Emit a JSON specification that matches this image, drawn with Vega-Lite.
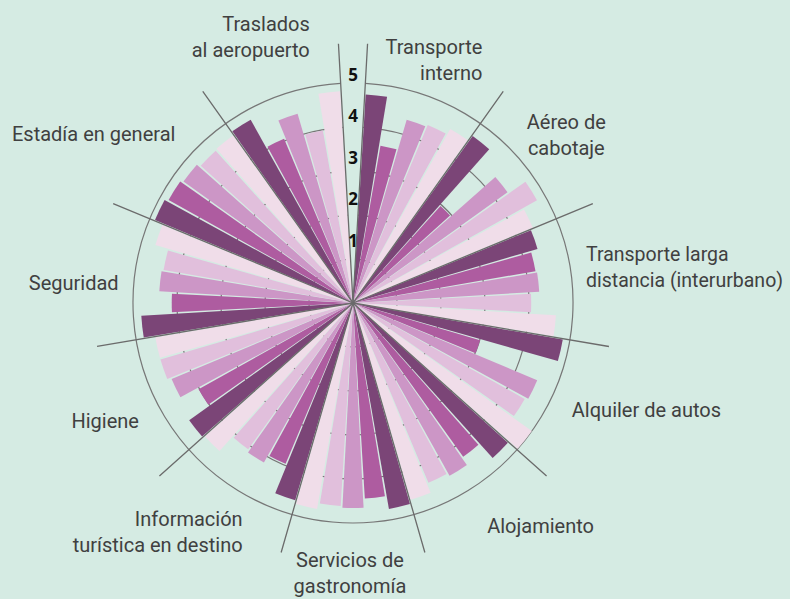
{
  "$schema": "https://vega.github.io/schema/vega-lite/v6.json",
  "width": 706,
  "height": 606,
  "autosize": {"type": "none"},
  "padding": {"left": 0, "top": 0, "right": 84, "bottom": 0},
  "background": "#d5ebe3",
  "config": {
    "view": {"stroke": null},
    "text": {"font": "Roboto, sans-serif", "fontSize": 20, "fill": "#404040", "lineBreak": "\n", "lineHeight": 26, "baseline": "middle"}
  },
  "datasets": {
    "bars": [
      {"ci": 0, "cat": "", "s": 0, "v": 0},
      {"ci": 1, "cat": "Transporte\ninterno", "s": 1, "v": 4.75},
      {"ci": 1, "cat": "Transporte\ninterno", "s": 2, "v": 3.63},
      {"ci": 1, "cat": "Transporte\ninterno", "s": 3, "v": 4.34},
      {"ci": 1, "cat": "Transporte\ninterno", "s": 4, "v": 4.39},
      {"ci": 1, "cat": "Transporte\ninterno", "s": 5, "v": 4.53},
      {"ci": 2, "cat": "Aéreo de\ncabotaje", "s": 1, "v": 4.67},
      {"ci": 2, "cat": "Aéreo de\ncabotaje", "s": 2, "v": 2.97},
      {"ci": 2, "cat": "Aéreo de\ncabotaje", "s": 3, "v": 4.32},
      {"ci": 2, "cat": "Aéreo de\ncabotaje", "s": 4, "v": 4.79},
      {"ci": 2, "cat": "Aéreo de\ncabotaje", "s": 5, "v": 4.43},
      {"ci": 3, "cat": "Transporte larga\ndistancia (interurbano)", "s": 1, "v": 4.37},
      {"ci": 3, "cat": "Transporte larga\ndistancia (interurbano)", "s": 2, "v": 4.21},
      {"ci": 3, "cat": "Transporte larga\ndistancia (interurbano)", "s": 3, "v": 4.24},
      {"ci": 3, "cat": "Transporte larga\ndistancia (interurbano)", "s": 4, "v": 4.05},
      {"ci": 3, "cat": "Transporte larga\ndistancia (interurbano)", "s": 5, "v": 4.62},
      {"ci": 4, "cat": "Alquiler de autos", "s": 1, "v": 4.84},
      {"ci": 4, "cat": "Alquiler de autos", "s": 2, "v": 3.01},
      {"ci": 4, "cat": "Alquiler de autos", "s": 3, "v": 4.54},
      {"ci": 4, "cat": "Alquiler de autos", "s": 4, "v": 4.47},
      {"ci": 4, "cat": "Alquiler de autos", "s": 5, "v": 5.0},
      {"ci": 5, "cat": "Alojamiento", "s": 1, "v": 4.74},
      {"ci": 5, "cat": "Alojamiento", "s": 2, "v": 4.30},
      {"ci": 5, "cat": "Alojamiento", "s": 3, "v": 4.50},
      {"ci": 5, "cat": "Alojamiento", "s": 4, "v": 4.43},
      {"ci": 5, "cat": "Alojamiento", "s": 5, "v": 4.66},
      {"ci": 6, "cat": "Servicios de\ngastronomía", "s": 1, "v": 4.75},
      {"ci": 6, "cat": "Servicios de\ngastronomía", "s": 2, "v": 4.45},
      {"ci": 6, "cat": "Servicios de\ngastronomía", "s": 3, "v": 4.66},
      {"ci": 6, "cat": "Servicios de\ngastronomía", "s": 4, "v": 4.62},
      {"ci": 6, "cat": "Servicios de\ngastronomía", "s": 5, "v": 4.75},
      {"ci": 7, "cat": "Información\nturística en destino", "s": 1, "v": 4.67},
      {"ci": 7, "cat": "Información\nturística en destino", "s": 2, "v": 3.96},
      {"ci": 7, "cat": "Información\nturística en destino", "s": 3, "v": 4.15},
      {"ci": 7, "cat": "Información\nturística en destino", "s": 4, "v": 4.09},
      {"ci": 7, "cat": "Información\nturística en destino", "s": 5, "v": 4.53},
      {"ci": 8, "cat": "Higiene", "s": 1, "v": 4.58},
      {"ci": 8, "cat": "Higiene", "s": 2, "v": 4.02},
      {"ci": 8, "cat": "Higiene", "s": 3, "v": 4.47},
      {"ci": 8, "cat": "Higiene", "s": 4, "v": 4.56},
      {"ci": 8, "cat": "Higiene", "s": 5, "v": 4.56},
      {"ci": 9, "cat": "Seguridad", "s": 1, "v": 4.82},
      {"ci": 9, "cat": "Seguridad", "s": 2, "v": 4.12},
      {"ci": 9, "cat": "Seguridad", "s": 3, "v": 4.41},
      {"ci": 9, "cat": "Seguridad", "s": 4, "v": 4.37},
      {"ci": 9, "cat": "Seguridad", "s": 5, "v": 4.68},
      {"ci": 10, "cat": "Estadía en general", "s": 1, "v": 4.88},
      {"ci": 10, "cat": "Estadía en general", "s": 2, "v": 4.80},
      {"ci": 10, "cat": "Estadía en general", "s": 3, "v": 4.74},
      {"ci": 10, "cat": "Estadía en general", "s": 4, "v": 4.66},
      {"ci": 10, "cat": "Estadía en general", "s": 5, "v": 4.68},
      {"ci": 11, "cat": "Traslados\nal aeropuerto", "s": 1, "v": 4.77},
      {"ci": 11, "cat": "Traslados\nal aeropuerto", "s": 2, "v": 4.05},
      {"ci": 11, "cat": "Traslados\nal aeropuerto", "s": 3, "v": 4.48},
      {"ci": 11, "cat": "Traslados\nal aeropuerto", "s": 4, "v": 3.98},
      {"ci": 11, "cat": "Traslados\nal aeropuerto", "s": 5, "v": 4.82}
    ],
    "ticks": [{"t": 1}, {"t": 2}, {"t": 3}, {"t": 4}, {"t": 5}]
  },
  "resolve": {"scale": {"radius": "independent"}},
  "layer": [
    {
      "layer": [
        {
          "data": {"name": "ticks"},
          "mark": {"type": "arc", "fill": "transparent", "stroke": "#777777", "strokeWidth": 1.2},
          "encoding": {
            "theta": {"datum": 1, "type": "quantitative", "scale": {"domain": [0, 56], "range": [-0.0561, 6.2271]}},
            "theta2": {"datum": 56},
            "radius": {"field": "t", "type": "quantitative", "scale": {"type": "linear", "domain": [0, 5], "range": [0, 220], "zero": true}},
            "radius2": {"field": "t"}
          }
        },
        {
          "data": {"name": "bars"},
          "transform": [
            {"aggregate": [{"op": "count", "as": "n"}], "groupby": ["ci", "s", "v", "cat"]},
            {"stack": "n", "groupby": [], "sort": [{"field": "ci", "order": "ascending"}, {"field": "s", "order": "ascending"}], "as": ["a0", "a1"]}
          ],
          "mark": {"type": "arc", "padAngle": 0.009},
          "encoding": {
            "theta": {"field": "a0", "type": "quantitative", "stack": null},
            "theta2": {"field": "a1"},
            "radius": {"field": "v", "type": "quantitative"},
            "color": {"field": "s", "type": "nominal", "scale": {"domain": [0, 1, 2, 3, 4, 5], "range": ["#d5ebe3", "#7b4577", "#ae5ca0", "#cc96c6", "#e1bfdc", "#f0dde9"]}, "legend": null}
          }
        },
        {
          "data": {"name": "bars"},
          "transform": [
            {"aggregate": [{"op": "count", "as": "n"}], "groupby": ["ci", "cat"]},
            {"stack": "n", "groupby": [], "sort": [{"field": "ci", "order": "ascending"}], "as": ["a0", "a1"]}
          ],
          "mark": {"type": "arc", "fill": "transparent", "stroke": "#6b6b6b", "strokeWidth": 1.3},
          "encoding": {
            "theta": {"field": "a0", "type": "quantitative", "stack": null},
            "theta2": {"field": "a0"},
            "radius": {"datum": 5.9}
          }
        },
        {
          "data": {"name": "bars"},
          "transform": [
            {"aggregate": [{"op": "count", "as": "n"}], "groupby": ["ci", "cat"]}
          ],
          "encoding": {
            "theta": {"field": "n", "type": "quantitative", "stack": true},
            "order": {"field": "ci", "type": "quantitative"},
            "detail": {"field": "ci", "type": "nominal"}
          },
          "layer": [
            {"mark": {"type": "text", "align": "right", "dx": 44, "dy": -11}, "encoding": {"radius": {"datum": 5.875}, "text": {"condition": {"test": "datum.ci == 1", "field": "cat"}, "value": ""}}},
            {"mark": {"type": "text", "align": "center", "dx": 0, "dy": -10}, "encoding": {"radius": {"datum": 6.2}, "text": {"condition": {"test": "datum.ci == 2", "field": "cat"}, "value": ""}}},
            {"mark": {"type": "text", "align": "left", "dx": -4, "dy": -21, "fontSize": 19.5}, "encoding": {"radius": {"datum": 5.42}, "text": {"condition": {"test": "datum.ci == 3", "field": "cat"}, "value": ""}}},
            {"mark": {"type": "text", "align": "left", "dx": 0, "dy": 3}, "encoding": {"radius": {"datum": 5.52}, "text": {"condition": {"test": "datum.ci == 4", "field": "cat"}, "value": ""}}},
            {"mark": {"type": "text", "align": "left", "dx": -3, "dy": 6}, "encoding": {"radius": {"datum": 5.86}, "text": {"condition": {"test": "datum.ci == 5", "field": "cat"}, "value": ""}}},
            {"mark": {"type": "text", "align": "center", "dx": -3, "dy": -12}, "encoding": {"radius": {"datum": 6.14}, "text": {"condition": {"test": "datum.ci == 6", "field": "cat"}, "value": ""}}},
            {"mark": {"type": "text", "align": "right", "dx": 28, "dy": -3}, "encoding": {"radius": {"datum": 5.91}, "text": {"condition": {"test": "datum.ci == 7", "field": "cat"}, "value": ""}}},
            {"mark": {"type": "text", "align": "right", "dx": 2, "dy": 15}, "encoding": {"radius": {"datum": 5.45}, "text": {"condition": {"test": "datum.ci == 8", "field": "cat"}, "value": ""}}},
            {"mark": {"type": "text", "align": "right", "dx": 0, "dy": 7}, "encoding": {"radius": {"datum": 5.36}, "text": {"condition": {"test": "datum.ci == 9", "field": "cat"}, "value": ""}}},
            {"mark": {"type": "text", "align": "right", "dx": 14, "dy": -15}, "encoding": {"radius": {"datum": 5.57}, "text": {"condition": {"test": "datum.ci == 10", "field": "cat"}, "value": ""}}},
            {"mark": {"type": "text", "align": "right", "dx": 46, "dy": -23}, "encoding": {"radius": {"datum": 6.14}, "text": {"condition": {"test": "datum.ci == 11", "field": "cat"}, "value": ""}}}
          ]
        }
      ]
    },
    {
      "data": {"name": "ticks"},
      "mark": {"type": "text", "font": "Open Sans, sans-serif", "fontWeight": "bold", "fontSize": 17, "fill": "#111111", "align": "center", "baseline": "middle"},
      "encoding": {
        "theta": {"datum": 0.5, "type": "quantitative"},
        "radius": {"field": "t", "type": "quantitative", "scale": {"type": "linear", "domain": [0, 5], "range": [19.5, 227.5], "zero": false}},
        "text": {"field": "t", "type": "quantitative"}
      }
    }
  ]
}
